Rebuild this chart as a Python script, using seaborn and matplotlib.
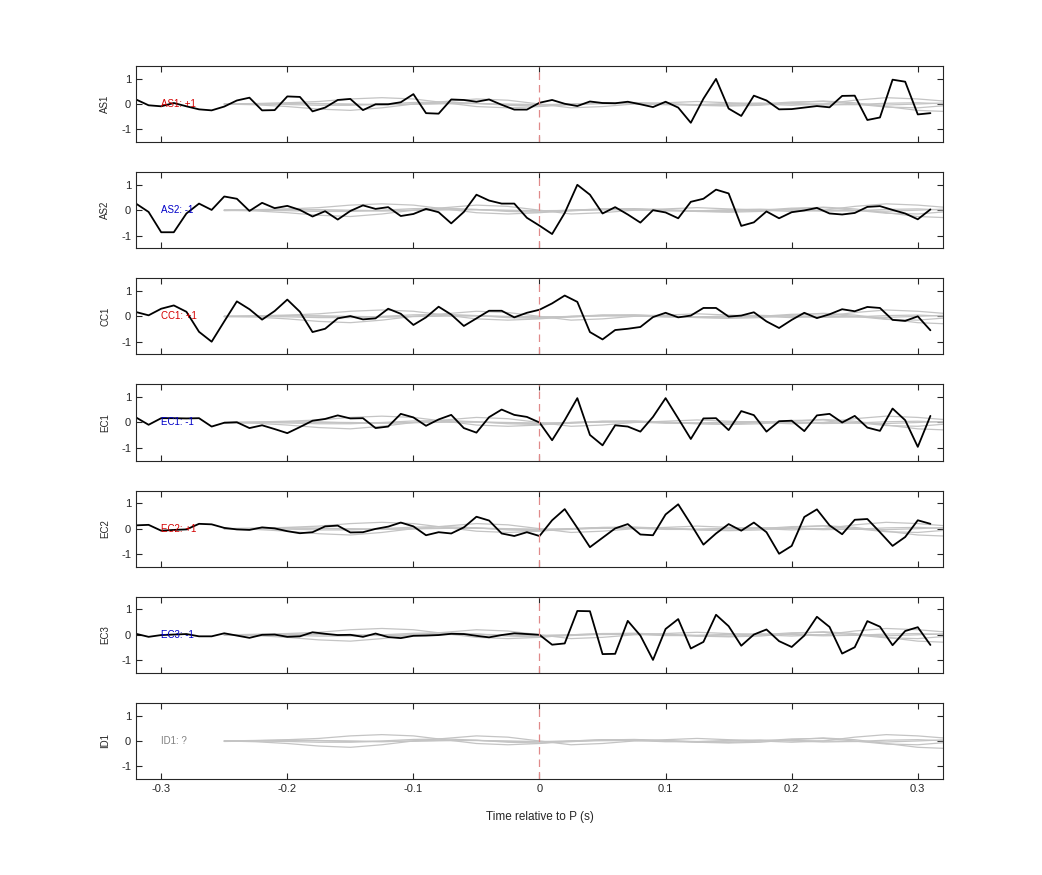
import numpy as np
import pandas as pd
import matplotlib
matplotlib.use("Agg")
import matplotlib.pyplot as plt
import seaborn as sns

stations = ["AS1", "AS2", "CC1", "EC1", "EC2", "EC3", "ID1"]
polarity = ["+1", "-1", "+1", "-1", "+1", "-1", "?"]
label_colors = ["#d40000", "#0000c8", "#d40000", "#0000c8", "#d40000", "#0000c8", "#808080"]

times = np.round(np.arange(-0.32, 0.315, 0.01), 2)  # 64 samples, -0.32 .. 0.31

AS1 = [0.18, -0.05, -0.09, 0.04, -0.09, -0.21, -0.25, -0.1, 0.14, 0.25, -0.25, -0.24, 0.3, 0.28, -0.29, -0.14,
       0.16, 0.2, -0.24, -0.01, -0.01, 0.07, 0.39, -0.36, -0.38, 0.18, 0.16, 0.09, 0.18, -0.03, -0.22, -0.22,
       0.05, 0.16, 0.01, -0.08, 0.1, 0.04, 0.03, 0.09, -0.01, -0.12, 0.09, -0.14, -0.74, 0.21, 0.99, -0.18,
       -0.47, 0.33, 0.14, -0.21, -0.2, -0.14, -0.08, -0.13, 0.32, 0.33, -0.63, -0.53, 0.96, 0.88, -0.41, -0.36]
AS2 = [0.26, -0.07, -0.87, -0.87, -0.13, 0.26, 0.01, 0.54, 0.45, -0.03, 0.29, 0.08, 0.17, 0.01, -0.25, -0.04,
       -0.37, -0.03, 0.19, 0.05, 0.12, -0.23, -0.15, 0.05, -0.08, -0.52, -0.07, 0.61, 0.38, 0.26, 0.26, -0.3,
       -0.61, -0.94, -0.11, 1.0, 0.61, -0.13, 0.12, -0.17, -0.49, 0.0, -0.09, -0.32, 0.33, 0.45, 0.81, 0.66,
       -0.62, -0.48, -0.05, -0.32, -0.08, -0.01, 0.09, -0.13, -0.17, -0.11, 0.13, 0.16, 0.01, -0.13, -0.36, 0.03]
CC1 = [0.17, 0.04, 0.3, 0.43, 0.18, -0.61, -1.0, -0.2, 0.59, 0.28, -0.13, 0.21, 0.66, 0.18, -0.62, -0.49,
       -0.08, 0.01, -0.12, -0.08, 0.3, 0.1, -0.34, -0.04, 0.38, 0.07, -0.38, -0.08, 0.22, 0.22, -0.04, 0.14,
       0.26, 0.51, 0.82, 0.57, -0.62, -0.91, -0.54, -0.49, -0.42, -0.03, 0.14, -0.04, 0.03, 0.33, 0.33, -0.01,
       0.03, 0.16, -0.2, -0.46, -0.14, 0.14, -0.07, 0.08, 0.28, 0.2, 0.37, 0.33, -0.14, -0.18, 0.0, -0.55]
EC1 = [0.2, -0.09, 0.17, 0.17, 0.16, 0.17, -0.16, -0.01, 0.01, -0.22, -0.11, -0.26, -0.42, -0.18, 0.07, 0.14,
       0.28, 0.16, 0.17, -0.22, -0.16, 0.34, 0.2, -0.13, 0.12, 0.3, -0.22, -0.4, 0.21, 0.51, 0.3, 0.22,
       0.0, -0.7, 0.09, 0.96, -0.49, -0.9, -0.11, -0.16, -0.36, 0.22, 0.96, 0.16, -0.65, 0.16, 0.17, -0.3,
       0.45, 0.29, -0.36, 0.05, 0.07, -0.34, 0.28, 0.34, 0.0, 0.26, -0.2, -0.33, 0.55, 0.09, -0.96, 0.26]
EC2 = [0.13, 0.15, -0.08, -0.05, -0.03, 0.19, 0.17, 0.03, -0.03, -0.05, 0.05, 0.01, -0.1, -0.18, -0.14, 0.09,
       0.12, -0.15, -0.14, -0.01, 0.08, 0.24, 0.09, -0.26, -0.14, -0.19, 0.05, 0.47, 0.32, -0.19, -0.29, -0.14,
       -0.29, 0.33, 0.77, 0.03, -0.73, -0.36, 0.01, 0.18, -0.23, -0.26, 0.56, 0.96, 0.18, -0.63, -0.19, 0.18,
       -0.08, 0.24, -0.14, -0.99, -0.68, 0.46, 0.76, 0.13, -0.22, 0.35, 0.38, -0.14, -0.68, -0.33, 0.33, 0.19]
EC3 = [0.04, -0.08, -0.01, 0.01, 0.03, -0.06, -0.06, 0.06, -0.03, -0.12, 0.0, 0.01, -0.08, -0.06, 0.1, 0.04,
       -0.01, 0.0, -0.08, 0.05, -0.09, -0.13, -0.04, -0.03, -0.01, 0.04, 0.03, -0.04, -0.1, -0.01, 0.06, 0.03,
       0.0, -0.39, -0.34, 0.94, 0.93, -0.76, -0.75, 0.55, -0.03, -0.99, 0.23, 0.62, -0.54, -0.28, 0.79, 0.34,
       -0.43, 0.01, 0.21, -0.25, -0.48, -0.03, 0.71, 0.31, -0.74, -0.49, 0.54, 0.32, -0.41, 0.15, 0.3, -0.4]
observed = [AS1, AS2, CC1, EC1, EC2, EC3, None]

# Synthetic (gray) traces, 25 samples every 0.025 s from -0.25 to 0.35
gray_times = np.round(np.linspace(-0.25, 0.35, 25), 3)
GRAY_A = [0.0, 0.02, 0.05, 0.1, 0.2, 0.25, 0.2, 0.05, -0.1, -0.15, -0.1, 0.0, 0.05, 0.05, 0.0, -0.05,
          -0.08, -0.05, 0.05, 0.12, 0.05, -0.1, -0.25, -0.3, -0.1]
GRAY_B = [0.0, -0.03, -0.1, -0.2, -0.25, -0.15, 0.0, 0.1, 0.2, 0.15, 0.0, -0.15, -0.1, 0.0, 0.05, 0.1,
          0.05, 0.0, -0.05, 0.0, 0.15, 0.25, 0.2, 0.1, 0.15]
GRAY_C = [0.0, 0.01, 0.03, 0.02, -0.02, -0.03, 0.0, 0.03, 0.02, -0.02, -0.04, 0.0, 0.04, 0.02, -0.03, -0.03,
          0.02, 0.04, 0.0, -0.04, -0.02, 0.03, 0.05, 0.0, -0.05]
GRAY_D = [0.0, 0.0, -0.02, -0.05, -0.05, 0.0, 0.06, 0.08, 0.03, -0.05, -0.08, -0.03, 0.04, 0.06, 0.02, -0.04,
          -0.06, 0.0, 0.08, 0.1, 0.0, -0.12, -0.15, -0.05, 0.1]
GRAY_E = [-0.02, 0.0, 0.02, 0.01, 0.0, -0.02, -0.01, 0.01, 0.02, 0.0, -0.02, -0.01, 0.01, 0.02, 0.0, -0.02,
          -0.01, 0.01, 0.02, 0.0, -0.02, -0.04, 0.0, 0.05, 0.03]
grays = [GRAY_A, GRAY_B, GRAY_C, GRAY_D, GRAY_E]

sns.set_style("ticks")
plt.rcParams["font.family"] = ["Liberation Sans", "DejaVu Sans"]
plt.rcParams["axes.unicode_minus"] = False

fig = plt.figure(figsize=(10.42, 8.75), dpi=100)
gs = fig.add_gridspec(7, 1, left=0.1305, right=0.905, top=0.9246, bottom=0.1097, hspace=0.395)

for i, st in enumerate(stations):
    ax = fig.add_subplot(gs[i])
    for g in grays:
        sns.lineplot(x=gray_times, y=g, ax=ax, color="#c4c4c4", lw=0.9, estimator=None)
    if observed[i] is not None:
        sns.lineplot(x=times, y=observed[i], ax=ax, color="black", lw=1.3, estimator=None)
    ax.axvline(0, color="#e08a8a", ls=(0, (6, 4)), lw=0.9)
    ax.text(-0.3, 0, f"{st}: {polarity[i]}", color=label_colors[i], fontsize=7, va="center", ha="left")
    ax.set_xlim(-0.32, 0.32)
    ax.set_ylim(-1.5, 1.5)
    ax.set_yticks([-1, 0, 1])
    ax.set_xticks([-0.3, -0.2, -0.1, 0, 0.1, 0.2, 0.3])
    ax.tick_params(direction="in", top=True, right=True, labelsize=8, length=4, width=0.8)
    ax.set_ylabel(st, fontsize=7, labelpad=8)
    for s in ax.spines.values():
        s.set_linewidth(0.8)
    if i < 6:
        ax.set_xticklabels([])
    else:
        ax.set_xticklabels(["-0.3", "-0.2", "-0.1", "0", "0.1", "0.2", "0.3"])
        ax.set_xlabel("Time relative to P (s)", fontsize=8.5, labelpad=12)

fig.savefig("out.png", dpi=100)
